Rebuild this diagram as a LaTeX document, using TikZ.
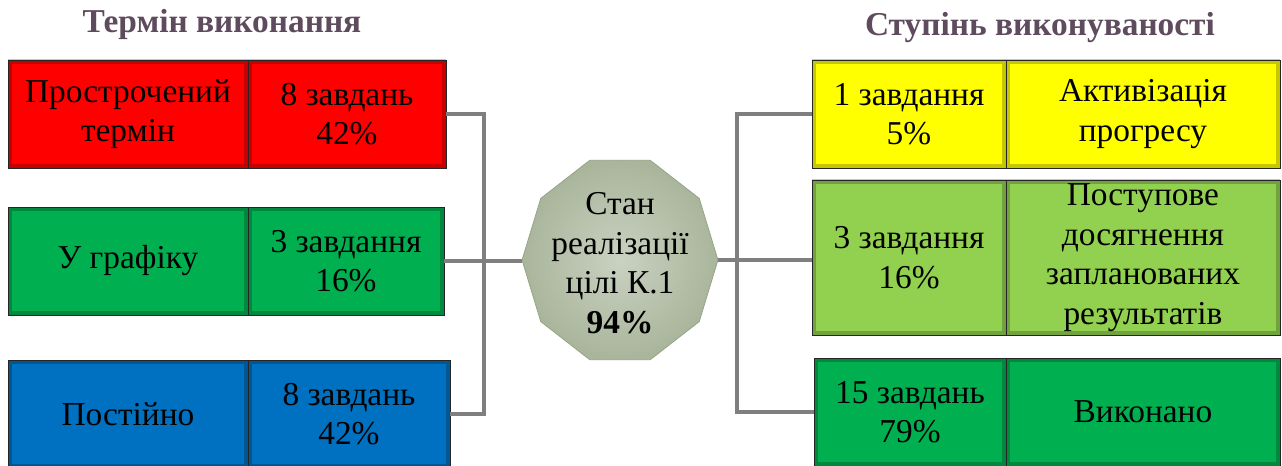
\documentclass[tikz,border=0pt]{standalone}
\usepackage{fontspec}
\setmainfont{Liberation Serif}
\usetikzlibrary{positioning, shapes.geometric, calc}

\definecolor{headcol}{HTML}{5F4B5E}
\definecolor{linkcol}{HTML}{7F7F7F}
\definecolor{redcol}{HTML}{FF0000}
\definecolor{greencol}{HTML}{00B050}
\definecolor{bluecol}{HTML}{0070C0}
\definecolor{yellowcol}{HTML}{FFFF00}
\definecolor{lightcol}{HTML}{92D050}
\definecolor{stateIn}{HTML}{CAD1C1}
\definecolor{stateOut}{HTML}{A9B59B}
\definecolor{stateEdge}{HTML}{93A283}

\begin{document}
\begin{tikzpicture}[x=0.02cm, y=-0.02cm, semithick,
    cell/.style={draw=black!85, thin, shape=rectangle, minimum height=2.16cm, align=center,
      inner sep=0pt, outer sep=0pt, font=\fontsize{19}{22.5}\selectfont,
      path picture={\draw[black, opacity=.22, line width=5pt]
        (path picture bounding box.south west) rectangle (path picture bounding box.north east);}},
    head/.style={font=\fontsize{19}{20}\selectfont\bfseries, text=headcol},
    link/.style={draw=linkcol, line width=2.2pt}]

  \useasboundingbox (0,0) rectangle (1282,466);

  \node[head] (lefthead) at (222,24) {Термін виконання};
  \node[head] (righthead) at (1040,28) {Ступінь виконуваності};

  \node[cell, fill=redcol, minimum width=4.8cm, anchor=north west] (late) at (8,60) {Прострочений\\термін};
  \node[cell, fill=redcol, minimum width=3.96cm, right=0pt of late] (latenum) {8 завдань\\42\%};

  \node[cell, fill=greencol, minimum width=4.8cm, anchor=north west] (plan) at (8,207) {У графіку};
  \node[cell, fill=greencol, minimum width=3.92cm, right=0pt of plan] (plannum) {3 завдання\\16\%};

  \node[cell, fill=bluecol, minimum width=4.8cm, anchor=north west] (always) at (8,360) {Постійно};
  \node[cell, fill=bluecol, minimum width=4.04cm, right=0pt of always] (alwaysnum) {8 завдань\\42\%};

  \node[cell, fill=yellowcol, minimum width=3.88cm, anchor=north west] (firstnum) at (812,60) {1 завдання\\5\%};
  \node[cell, fill=yellowcol, minimum width=5.48cm, right=0pt of firstnum] (first) {Активізація\\прогресу};

  \node[cell, fill=lightcol, minimum width=3.88cm, minimum height=3.1cm, anchor=north west] (stepnum) at (812,180) {3 завдання\\16\%};
  \node[cell, fill=lightcol, minimum width=5.48cm, minimum height=3.1cm, right=0pt of stepnum] (step) {Поступове\\досягнення\\запланованих\\результатів};

  \node[cell, fill=greencol, minimum width=3.84cm, anchor=north west] (donenum) at (814,358) {15 завдань\\79\%};
  \node[cell, fill=greencol, minimum width=5.48cm, right=0pt of donenum] (done) {Виконано};

  \node[regular polygon, regular polygon sides=10, minimum size=3.92cm, inner sep=0pt,
    yscale=1.07, transform shape, draw=stateEdge, thin, inner color=stateIn, outer color=stateOut] (state) at (620,260) {};
  \node[align=center, font=\fontsize{19}{22.5}\selectfont] (statetext) at ([yshift=-0.06cm]state.center) {Стан\\реалізації\\цілі К.1\\\textbf{94\%}};

  \coordinate (lbus) at (484,0);
  \coordinate (rbus) at (737,0);

  \draw[link] (latenum.east) -| (lbus |- alwaysnum.east) -- (alwaysnum.east);
  \draw[link] (plannum.east) -- (state.west |- plannum.east);
  \draw[link] (firstnum.west) -| (rbus |- donenum.west) -- (donenum.west);
  \draw[link] (state.east) -- (state.east -| stepnum.west);
\end{tikzpicture}
\end{document}
